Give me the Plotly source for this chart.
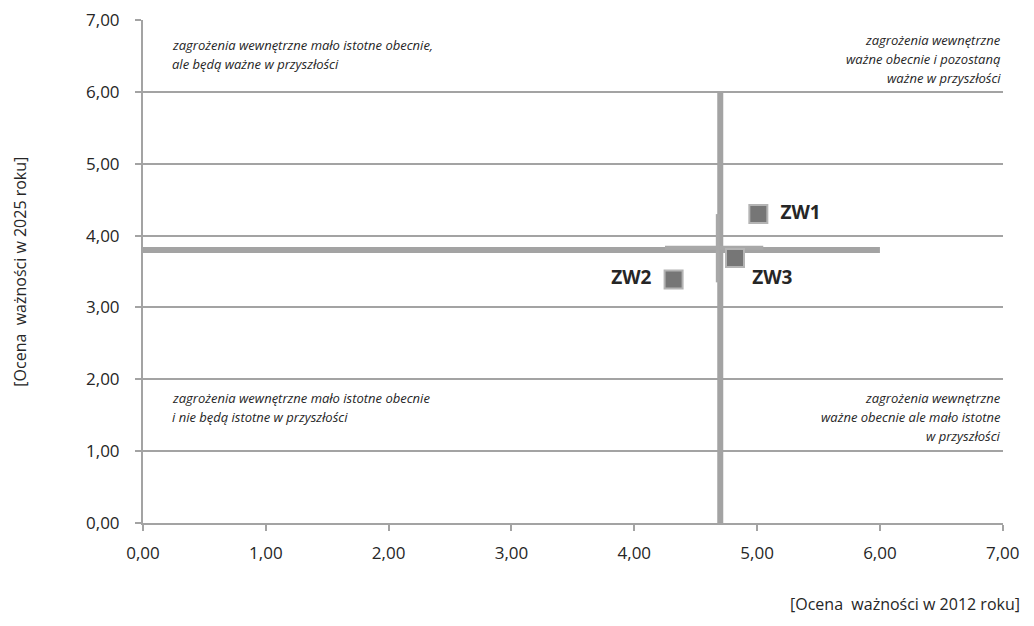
import plotly.graph_objects as go

# threat positions: [importance 2012, importance 2025]
labels = ["ZW1", "ZW2", "ZW3"]
x_2012 = [5.01, 4.32, 4.82]
y_2025 = [4.30, 3.39, 3.69]

# quadrant dividers (mean values)
mean_x = 4.70
mean_y = 3.80
divider_x_span = [0.0, 6.0]
divider_y_span = [0.0, 6.0]

# short auxiliary segments near the crossing
aux_h_x = [4.25, 5.05]
aux_v_y = [3.35, 4.30]

ticks = [0, 1, 2, 3, 4, 5, 6, 7]

# (lines, x, y of first line, side)
quadrant_notes = [
    (["zagrożenia wewnętrzne mało istotne obecnie,", "ale będą ważne w przyszłości"], 0.22, 6.65, "left"),
    (["zagrożenia wewnętrzne", "ważne obecnie i pozostaną", "ważne w przyszłości"], 7.0, 6.72, "right"),
    (["zagrożenia wewnętrzne mało istotne obecnie", "i nie będą istotne w przyszłości"], 0.22, 1.74, "left"),
    (["zagrożenia wewnętrzne", "ważne obecnie ale mało istotne", "w przyszłości"], 7.0, 1.74, "right"),
]
LINE_STEP = 0.265

LINE = "#a3a3a3"
FONT = "Open Sans"

fig = go.Figure()

fig.add_trace(go.Scatter(x=[mean_x, mean_x], y=divider_y_span, mode="lines",
                         line=dict(color=LINE, width=6), hoverinfo="skip", showlegend=False))
fig.add_trace(go.Scatter(x=divider_x_span, y=[mean_y, mean_y], mode="lines",
                         line=dict(color=LINE, width=6), hoverinfo="skip", showlegend=False))
fig.add_trace(go.Scatter(x=aux_h_x, y=[mean_y + 0.03, mean_y + 0.03], mode="lines",
                         line=dict(color="#a8a8a8", width=4), hoverinfo="skip", showlegend=False))
fig.add_trace(go.Scatter(x=[mean_x - 0.02, mean_x - 0.02], y=aux_v_y, mode="lines",
                         line=dict(color="#a8a8a8", width=4), hoverinfo="skip", showlegend=False))

fig.add_trace(go.Scatter(
    x=x_2012, y=y_2025, mode="markers+text", text=labels,
    textposition=["middle right", "middle left", "bottom right"],
    texttemplate=["  <b>%{text}</b>", "<b>%{text}</b>  ", " <b>%{text}</b>"],
    textfont=dict(family=FONT, size=19, color="#262626"),
    marker=dict(symbol="square", size=18, color="#767676", line=dict(color="#b4b4b4", width=2)),
    showlegend=False,
))

for lines, x, y0, side in quadrant_notes:
    for i, line in enumerate(lines):
        fig.add_annotation(x=x, y=y0 - i * LINE_STEP, xref="x", yref="y", text=f"<i>{line}</i>",
                           showarrow=False, xanchor=side, yanchor="middle",
                           font=dict(family=FONT, size=13, color="#262626"))

fig.add_annotation(x=1.022, y=-0.135, xref="paper", yref="paper", xanchor="right", yanchor="top",
                   text="[Ocena  ważności w 2012 roku]", showarrow=False,
                   font=dict(family=FONT, size=16, color="#262626"))
fig.add_annotation(x=-0.144, y=0.5, xref="paper", yref="paper", textangle=-90,
                   xanchor="center", yanchor="middle",
                   text="[Ocena  ważności w 2025 roku]", showarrow=False,
                   font=dict(family=FONT, size=16, color="#262626"))

# page body has an 8px margin, so the figure is drawn 8px smaller and shifted
fig.update_layout(
    width=1026, height=618,
    margin=dict(l=135, r=31, t=12, b=103, autoexpand=False),
    paper_bgcolor="white", plot_bgcolor="white",
    separators=", ",
    font=dict(family=FONT, size=17, color="#262626"),
    xaxis=dict(range=[0, 7.002], tickvals=ticks, tickformat=".2f", showgrid=False, zeroline=False,
               showline=True, linecolor=LINE, linewidth=2, ticks="outside", ticklen=6,
               tickcolor=LINE, tickwidth=2, automargin=False, ticklabelstandoff=8),
    yaxis=dict(range=[0, 7.002], tickvals=ticks, tickformat=".2f", showgrid=True, gridcolor=LINE,
               gridwidth=2, zeroline=False, showline=True, linecolor=LINE, linewidth=2,
               ticks="outside", ticklen=6, tickcolor=LINE, tickwidth=2, automargin=False,
               ticklabelstandoff=12),
)

fig.write_html("out.html")
